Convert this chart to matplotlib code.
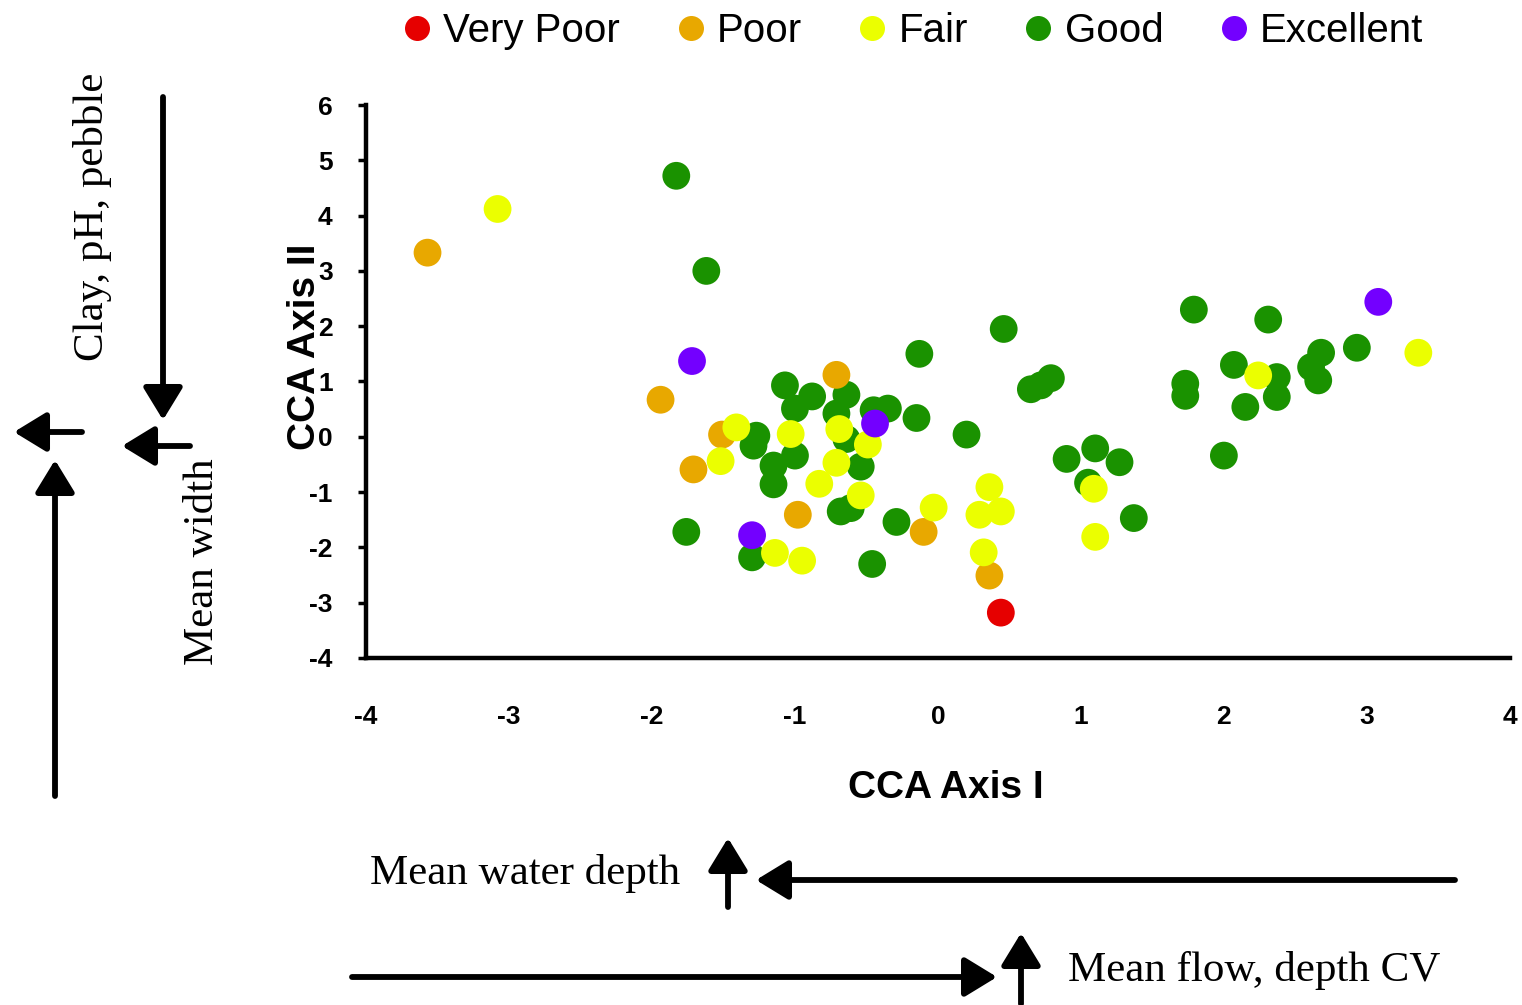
import matplotlib
matplotlib.use("Agg")
import matplotlib.pyplot as plt
from matplotlib.lines import Line2D

# CCA site scores by condition class
very_poor_x = [0.44]
very_poor_y = [-3.18]

poor_x = [-3.57, -1.94, -0.71, -1.51, -1.71, -0.98, -0.10, 0.36]
poor_y = [3.33, 0.67, 1.12, 0.04, -0.59, -1.41, -1.72, -2.51]

fair_x = [-3.08, 3.36, 2.24, -1.41, -1.03, -0.69, -0.49, -1.52, -0.71, -0.83,
          -0.54, -0.03, -1.14, -0.95, 0.36, 0.29, 0.44, 0.32, 1.09, 1.10]
fair_y = [4.12, 1.52, 1.11, 0.17, 0.05, 0.14, -0.14, -0.44, -0.47, -0.85,
          -1.06, -1.28, -2.10, -2.24, -0.91, -1.41, -1.35, -2.09, -0.94, -1.81]

good_x = [-1.83, -1.62, 0.46, -0.13, 1.79, 2.31, 2.93, 2.68, 2.61, 2.66,
          2.07, 2.37, 2.37, 2.15, 1.73, 1.73, 0.65, 0.72, 0.79, 2.00,
          0.90, 1.10, 1.27, 1.05, 1.37, -1.07, -0.88, -1.00, -0.64, -0.71,
          -0.35, -0.45, -0.15, 0.20, -1.27, -1.29, -0.64, -1.15, -1.15, -1.00,
          -0.54, -0.68, -0.61, -0.29, -1.76, -1.30, -0.46]
good_y = [4.72, 3.00, 1.95, 1.50, 2.30, 2.12, 1.61, 1.52, 1.26, 1.02,
          1.30, 1.08, 0.72, 0.54, 0.96, 0.74, 0.86, 0.93, 1.06, -0.34,
          -0.40, -0.21, -0.46, -0.83, -1.47, 0.93, 0.73, 0.51, 0.76, 0.42,
          0.51, 0.48, 0.34, 0.04, 0.02, -0.16, -0.04, -0.52, -0.86, -0.34,
          -0.54, -1.35, -1.29, -1.54, -1.72, -2.18, -2.30]

excellent_x = [-1.72, -0.44, -1.30, 3.08]
excellent_y = [1.37, 0.24, -1.78, 2.44]

classes = ["Very Poor", "Poor", "Fair", "Good", "Excellent"]
colors = ["#e60000", "#e8a800", "#ebff00", "#1a9200", "#7300ff"]

x_ticks = [-4, -3, -2, -1, 0, 1, 2, 3, 4]
y_ticks = [-4, -3, -2, -1, 0, 1, 2, 3, 4, 5, 6]


def arrow(ax, tail, head):
    # positions in figure pixels (image y measured from the top)
    ax.annotate("", xy=(head[0], 1005 - head[1]), xytext=(tail[0], 1005 - tail[1]),
                xycoords="figure pixels", textcoords="figure pixels",
                annotation_clip=False,
                arrowprops=dict(arrowstyle="-|>,head_length=0.9,head_width=0.55",
                                mutation_scale=22, lw=4.2, color="black",
                                shrinkA=0, shrinkB=0))


def main():
    plt.rcParams["font.family"] = ["Liberation Sans", "DejaVu Sans"]
    plt.rcParams["axes.unicode_minus"] = False
    fig = plt.figure(figsize=(15.22, 10.05), dpi=100)
    ax = fig.add_axes([0.2405, 0.3453, 0.7515, 0.5502])

    groups = [(very_poor_x, very_poor_y), (poor_x, poor_y), (fair_x, fair_y),
              (good_x, good_y), (excellent_x, excellent_y)]
    order = [3, 1, 2, 4, 0]
    for i in order:
        xs, ys = groups[i]
        ax.scatter(xs, ys, s=400, color=colors[i], edgecolors="none", zorder=3)

    ax.set_xlim(-4, 4)
    ax.set_ylim(-4, 6)
    ax.set_xticks(x_ticks)
    ax.set_yticks(y_ticks)
    for side in ["top", "right"]:
        ax.spines[side].set_visible(False)
    ax.spines["left"].set_linewidth(3.2)
    ax.spines["bottom"].set_linewidth(3.2)
    ax.tick_params(axis="x", length=0, pad=34, labelsize=19)
    ax.tick_params(axis="y", length=6, width=2.5, pad=18, labelsize=19)
    for lab in ax.get_xticklabels() + ax.get_yticklabels():
        lab.set_fontweight("bold")

    ax.set_xlabel("CCA Axis I", fontsize=28, fontweight="bold", va="center")
    ax.xaxis.set_label_coords(0.507, -0.235)
    ax.set_ylabel("CCA Axis II", fontsize=28, fontweight="bold", va="center")
    ax.yaxis.set_label_coords(-0.053, 0.562)

    handles = [Line2D([], [], marker="o", linestyle="none", markersize=18,
                      markerfacecolor=c, markeredgecolor="none") for c in colors]
    fig.legend(handles, classes, loc="center", bbox_to_anchor=(0.598, 0.969),
               ncol=5, frameon=False, fontsize=29, handlelength=1.0,
               handletextpad=0.15, columnspacing=1.25, borderpad=0)

    # environmental gradient arrows
    arrow(ax, (163, 97), (163, 420))
    arrow(ax, (82, 432), (14, 432))
    arrow(ax, (190, 446), (122, 446))
    arrow(ax, (55, 796), (55, 460))
    arrow(ax, (1455, 880), (756, 880))
    arrow(ax, (728, 907), (728, 838))
    arrow(ax, (352, 977), (997, 977))
    arrow(ax, (1021, 1004), (1021, 933))

    serif = ["Liberation Serif", "DejaVu Serif"]
    fig.text(92 / 1522, 1 - 217 / 1005, "Clay, pH, pebble", rotation=90,
             ha="center", va="center", fontsize=31, family=serif)
    fig.text(203 / 1522, 1 - 562 / 1005, "Mean width", rotation=90,
             ha="center", va="center", fontsize=31, family=serif)
    fig.text(370 / 1522, 1 - 873 / 1005, "Mean water depth",
             ha="left", va="center", fontsize=31, family=serif)
    fig.text(1068 / 1522, 1 - 970 / 1005, "Mean flow, depth CV",
             ha="left", va="center", fontsize=31, family=serif)

    fig.savefig("out.png", dpi=100)


if __name__ == "__main__":
    main()
